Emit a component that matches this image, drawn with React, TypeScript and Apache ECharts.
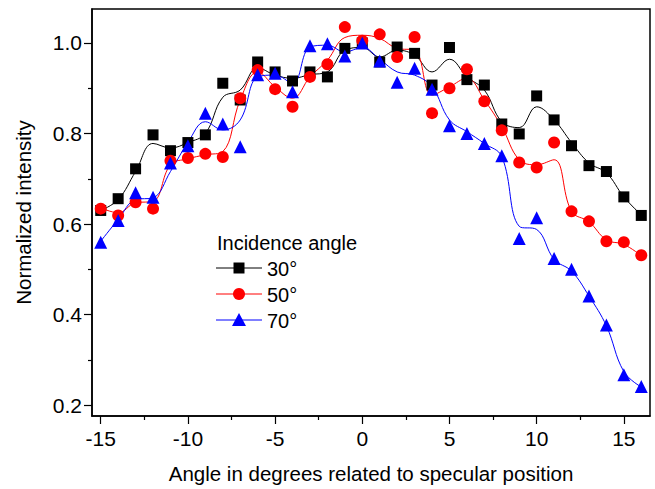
import React, { useEffect, useRef } from "react";
import * as echarts from "echarts";

const FONT = '"Liberation Sans", Arial, Helvetica, sans-serif';

const angles = [-15, -14, -13, -12, -11, -10, -9, -8, -7, -6, -5, -4, -3, -2, -1, 0, 1, 2, 3, 4, 5, 6, 7, 8, 9, 10, 11, 12, 13, 14, 15, 16];

// measured points
const pts30 = [0.630, 0.656, 0.722, 0.797, 0.762, 0.780, 0.797, 0.911, 0.874, 0.958, 0.936, 0.916, 0.936, 0.925, 0.988, 1.000, 0.958, 0.991, 0.977, 0.907, 0.990, 0.919, 0.907, 0.821, 0.799, 0.883, 0.830, 0.773, 0.729, 0.716, 0.660, 0.619];
const pts50 = [0.634, 0.619, 0.648, 0.634, 0.740, 0.746, 0.755, 0.748, 0.878, 0.940, 0.898, 0.859, 0.925, 0.953, 1.035, 1.005, 1.019, 0.969, 1.013, 0.845, 0.900, 0.942, 0.871, 0.807, 0.736, 0.725, 0.780, 0.628, 0.606, 0.562, 0.560, 0.531];
const pts70 = [0.560, 0.608, 0.669, 0.659, 0.735, 0.773, 0.845, 0.821, 0.771, 0.930, 0.933, 0.892, 0.994, 0.998, 0.971, 1.000, 0.960, 0.913, 0.944, 0.898, 0.817, 0.800, 0.778, 0.751, 0.568, 0.614, 0.524, 0.500, 0.441, 0.377, 0.267, 0.241];

// smoothed curve values read at each angle
const fit30 = [0.630, 0.654, 0.716, 0.778, 0.768, 0.780, 0.800, 0.880, 0.896, 0.945, 0.929, 0.922, 0.930, 0.936, 0.984, 0.990, 0.969, 0.984, 0.973, 0.936, 0.964, 0.925, 0.896, 0.826, 0.813, 0.859, 0.830, 0.780, 0.735, 0.713, 0.660, 0.620];
const fit50 = [0.636, 0.625, 0.647, 0.650, 0.731, 0.744, 0.753, 0.760, 0.874, 0.936, 0.903, 0.878, 0.925, 0.962, 1.012, 1.017, 1.010, 0.988, 0.984, 0.885, 0.903, 0.922, 0.874, 0.815, 0.742, 0.731, 0.742, 0.628, 0.605, 0.565, 0.555, 0.530];
const fit70 = [0.562, 0.610, 0.654, 0.658, 0.716, 0.780, 0.826, 0.808, 0.830, 0.925, 0.929, 0.911, 0.991, 0.995, 0.980, 0.990, 0.964, 0.936, 0.929, 0.903, 0.830, 0.804, 0.778, 0.749, 0.595, 0.588, 0.522, 0.496, 0.441, 0.375, 0.274, 0.240];

const seriesNames = ["30°", "50°", "70°"];
const seriesColors = ["#000000", "#ff0000", "#0000ff"];

const xMajor = [-15, -10, -5, 0, 5, 10, 15];
const xMinor = [-12.5, -7.5, -2.5, 2.5, 7.5, 12.5];
const yMajor = [0.2, 0.4, 0.6, 0.8, 1.0];
const yMinor = [0.3, 0.5, 0.7, 0.9];

const xTitle = "Angle in degrees related to specular position";
const yTitle = "Normalized intensity";
const legendTitle = "Incidence angle";

const pair = (vals: number[]) => angles.map((a, i) => [a, vals[i]]);

export default function App() {
  const ref = useRef<HTMLDivElement>(null);
  useEffect(() => {
    if (!ref.current) return;
    const chart = echarts.init(ref.current, undefined, { renderer: "svg" });
    const xMin = -15.5, xMax = 16.5, yMin = 0.176, yMax = 1.075;
    const labelStyle = { color: "#000", fontFamily: FONT, fontSize: 21 };
    const titleStyle = { color: "#000", fontFamily: FONT, fontSize: 20.5 };
    const legFont = `20px ${FONT}`;
    const option: any = {
      animation: false,
      backgroundColor: "#fff",
      grid: { left: 92, right: 5, top: 9, bottom: 72, show: true, borderColor: "#000", borderWidth: 1.5 },
      xAxis: [
        {
          type: "value", min: xMin, max: xMax,
          axisLine: { show: true, onZero: false, lineStyle: { color: "#000", width: 1.5 } },
          axisTick: { show: true, customValues: xMajor, length: 8, lineStyle: { color: "#000", width: 1.2 } },
          axisLabel: { show: true, customValues: xMajor, margin: 12, formatter: (v: number) => String(v), ...labelStyle },
          splitLine: { show: false },
          name: xTitle, nameLocation: "middle", nameGap: 47,
          nameTextStyle: titleStyle,
        },
        {
          type: "value", min: xMin, max: xMax, position: "bottom",
          axisLine: { show: false, onZero: false },
          axisTick: { show: true, customValues: xMinor, length: 4, lineStyle: { color: "#000", width: 1.2 } },
          axisLabel: { show: false },
          splitLine: { show: false },
        },
      ],
      yAxis: [
        {
          type: "value", min: yMin, max: yMax,
          axisLine: { show: true, onZero: false, lineStyle: { color: "#000", width: 1.5 } },
          axisTick: { show: true, customValues: yMajor, length: 8, lineStyle: { color: "#000", width: 1.2 } },
          axisLabel: { show: true, customValues: yMajor, margin: 10, formatter: (v: number) => v.toFixed(1), ...labelStyle },
          splitLine: { show: false },
          name: yTitle, nameLocation: "middle", nameGap: 58,
          nameTextStyle: titleStyle,
        },
        {
          type: "value", min: yMin, max: yMax, position: "left",
          axisLine: { show: false, onZero: false },
          axisTick: { show: true, customValues: yMinor, length: 4, lineStyle: { color: "#000", width: 1.2 } },
          axisLabel: { show: false },
          splitLine: { show: false },
        },
      ],
      series: [
        ...[fit30, fit50, fit70].map((d, i) => ({
          type: "line", name: seriesNames[i] + " fit", data: pair(d), smooth: 0.4, symbol: "none",
          lineStyle: { color: seriesColors[i], width: 1 }, z: 2, silent: true,
        })),
        { type: "scatter", name: seriesNames[0], data: pair(pts30), symbol: "rect", symbolSize: 11, itemStyle: { color: seriesColors[0], opacity: 1 }, z: 3 },
        { type: "scatter", name: seriesNames[1], data: pair(pts50), symbol: "circle", symbolSize: 12, itemStyle: { color: seriesColors[1], opacity: 1 }, z: 4 },
        { type: "scatter", name: seriesNames[2], data: pair(pts70), symbol: "triangle", symbolSize: 13, itemStyle: { color: seriesColors[2], opacity: 1 }, z: 5 },
      ],
      graphic: [
        { type: "text", x: 217, y: 243, style: { text: legendTitle, fill: "#000", font: legFont, verticalAlign: "middle" } },
        { type: "line", shape: { x1: 216, y1: 268, x2: 262, y2: 268 }, style: { stroke: seriesColors[0], lineWidth: 1 } },
        { type: "rect", shape: { x: 233.5, y: 262.5, width: 11, height: 11 }, style: { fill: seriesColors[0] } },
        { type: "text", x: 267, y: 269, style: { text: seriesNames[0], fill: "#000", font: legFont, verticalAlign: "middle" } },
        { type: "line", shape: { x1: 216, y1: 294, x2: 262, y2: 294 }, style: { stroke: seriesColors[1], lineWidth: 1 } },
        { type: "circle", shape: { cx: 239, cy: 294, r: 6 }, style: { fill: seriesColors[1] } },
        { type: "text", x: 267, y: 295, style: { text: seriesNames[1], fill: "#000", font: legFont, verticalAlign: "middle" } },
        { type: "line", shape: { x1: 216, y1: 320, x2: 262, y2: 320 }, style: { stroke: seriesColors[2], lineWidth: 1 } },
        { type: "polygon", shape: { points: [[239, 313], [232, 326], [246, 326]] }, style: { fill: seriesColors[2] } },
        { type: "text", x: 267, y: 321, style: { text: seriesNames[2], fill: "#000", font: legFont, verticalAlign: "middle" } },
      ],
    };
    chart.setOption(option);
    return () => chart.dispose();
  }, []);
  return <div ref={ref} style={{ position: "absolute", left: 0, top: 0, width: 655, height: 489, background: "#fff" }} />;
}
